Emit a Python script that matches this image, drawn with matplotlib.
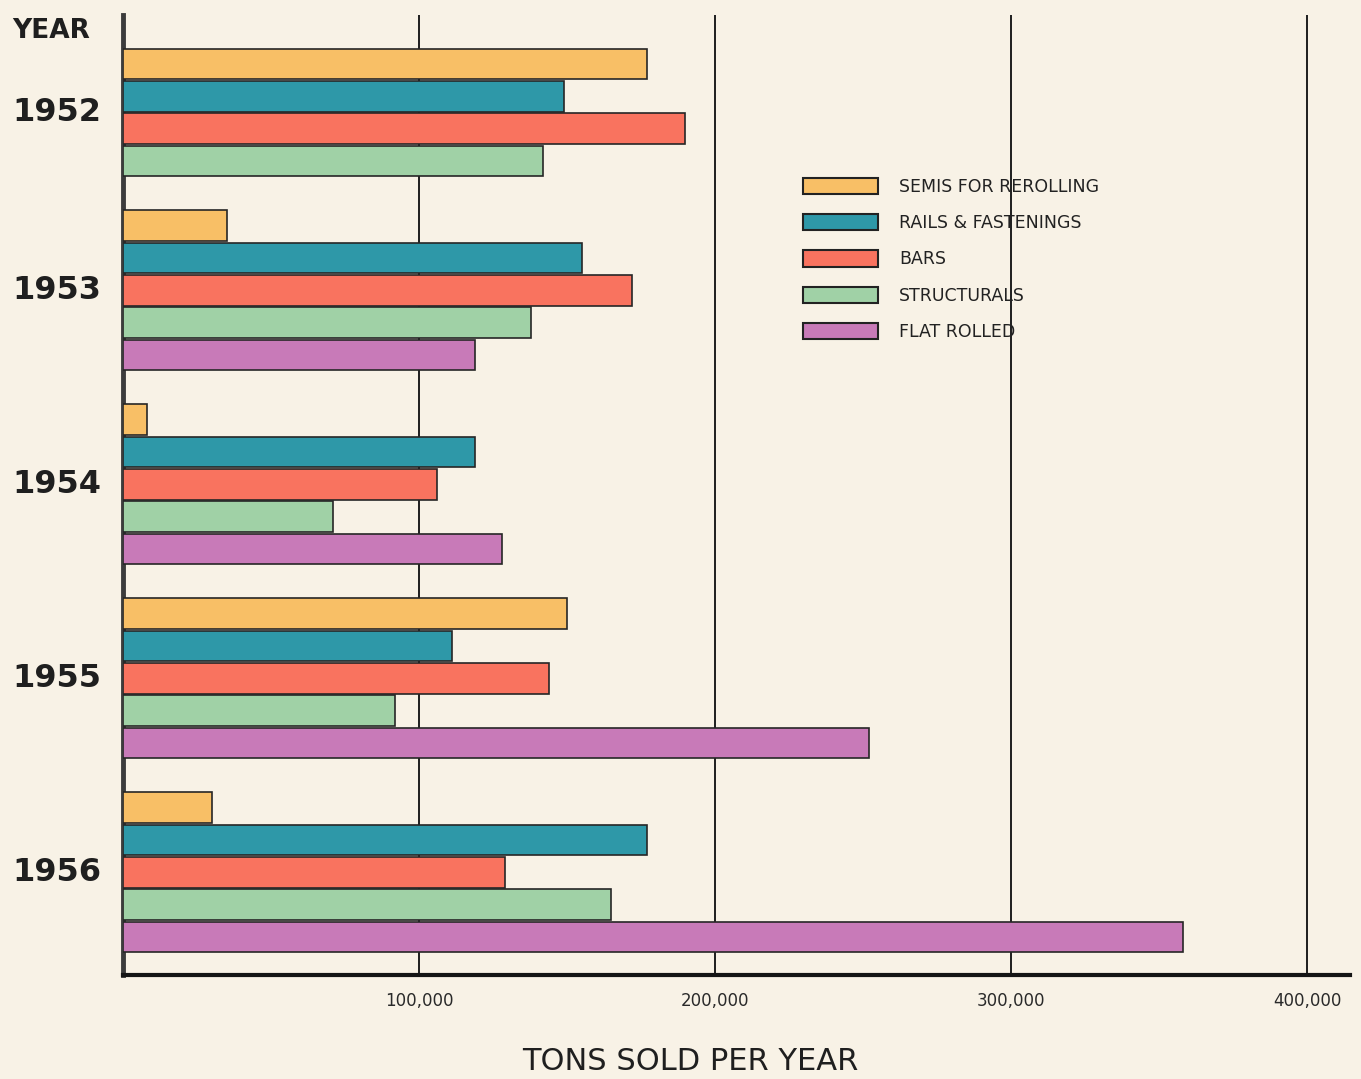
import numpy as np
import matplotlib
matplotlib.use("Agg")
import matplotlib.pyplot as plt
from matplotlib.patches import Patch
from matplotlib.transforms import blended_transform_factory

# data (tons sold per year)
years = ["1952", "1953", "1954", "1955", "1956"]
products = ["SEMIS FOR REROLLING", "RAILS & FASTENINGS", "BARS",
            "STRUCTURALS", "FLAT ROLLED"]
colors = ["#f8bf66", "#2e98a8", "#f9735f", "#a0d1a6", "#c87ab8"]

semis = [177000, 35000, 8000, 150000, 30000]
rails = [149000, 155000, 119000, 111000, 177000]
bars = [190000, 172000, 106000, 144000, 129000]
structurals = [142000, 138000, 71000, 92000, 165000]
flat_rolled = [None, 119000, 128000, 252000, 358000]  # no flat rolled bar for 1952

series = [semis, rails, bars, structurals, flat_rolled]
xticks = [100000, 200000, 300000, 400000]

bg = "#f8f2e6"
fig = plt.figure(figsize=(13.61, 10.79), dpi=100, facecolor=bg)
ax = fig.add_axes([123 / 1361, 1 - 975 / 1079, (1350 - 123) / 1361, 960 / 1079])
ax.set_facecolor(bg)

# bars stacked one slot apart, one empty slot between year groups
slot = 0
centers = []
last = 0
for i, yr in enumerate(years):
    first = slot
    for j, s in enumerate(series):
        v = s[i]
        if v is None:
            continue
        ax.barh(slot, v, height=0.94, color=colors[j], edgecolor="#262626",
                linewidth=1.2, zorder=3)
        last = slot
        slot += 1
    centers.append((first + slot - 1) / 2)
    slot += 1

pitch = 32.33  # px per slot in the reference
ax.set_ylim(last + 38 / pitch, -49 / pitch)
ax.set_xlim(0, 1227 / 2.96 * 1000)

for t in xticks:
    ax.axvline(t, color="#1e1e1e", lw=1.4, zorder=1)

ax.spines["top"].set_visible(False)
ax.spines["right"].set_visible(False)
ax.spines["left"].set_color("#3c3c3c")
ax.spines["left"].set_linewidth(3.5)
ax.spines["bottom"].set_color("#151515")
ax.spines["bottom"].set_linewidth(3)

ax.set_yticks([])
ax.set_xticks(xticks)
ax.set_xticklabels([f"{t:,}" for t in xticks], fontsize=12, color="#2a2a2a")
ax.tick_params(axis="x", length=0, pad=12)

trans = blended_transform_factory(fig.transFigure, ax.transData)
for c, yr in zip(centers, years):
    ax.text(12 / 1361, c, yr, transform=trans, fontsize=23, fontweight="bold",
            color="#1f1f1f", va="center", ha="left")

fig.text(12 / 1361, 1 - 31 / 1079, "YEAR", fontsize=19, fontweight="bold",
         color="#1f1f1f", va="center", ha="left")
fig.text(690 / 1361, 1 - 1062 / 1079, "TONS SOLD PER YEAR", fontsize=22,
         color="#1f1f1f", va="center", ha="center")

handles = [Patch(facecolor=c, edgecolor="#222222", linewidth=1.5) for c in colors]
leg = ax.legend(handles, products, loc="upper left",
                bbox_to_anchor=((803 - 7) / 1361, 1 - (186 - 15) / 1079),
                bbox_transform=fig.transFigure, frameon=False, fontsize=12.5,
                handlelength=4.3, handleheight=1.05, handletextpad=1.25,
                labelspacing=1.05, borderaxespad=0)
for txt in leg.get_texts():
    txt.set_color("#222222")

fig.savefig("out.png", dpi=100, facecolor=bg)
